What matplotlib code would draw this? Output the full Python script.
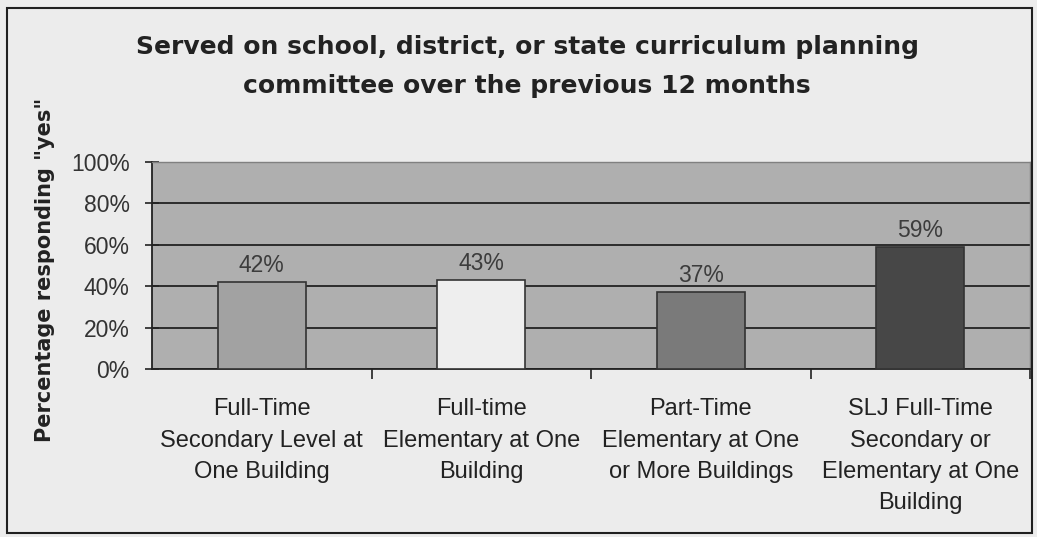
import matplotlib
matplotlib.use("Agg")
import matplotlib.pyplot as plt
from matplotlib.patches import Rectangle

categories = [
    "Full-Time\nSecondary Level at\nOne Building",
    "Full-time\nElementary at One\nBuilding",
    "Part-Time\nElementary at One\nor More Buildings",
    "SLJ Full-Time\nSecondary or\nElementary at One\nBuilding",
]
values = [42, 43, 37, 59]
labels = ["42%", "43%", "37%", "59%"]
yticks = [0, 20, 40, 60, 80, 100]
ytick_labels = ["0%", "20%", "40%", "60%", "80%", "100%"]
bar_colors = ["#a2a2a2", "#eeeeee", "#7a7a7a", "#474747"]

plt.rcParams['font.family'] = ['Liberation Sans', 'DejaVu Sans']

W, H = 1037, 537
fig = plt.figure(figsize=(W / 100, H / 100), dpi=100)
fig.patch.set_facecolor("#ececec")

# outer chart border
fig.patches.append(Rectangle((7 / W, 4 / H), (1032 - 7) / W, (529 - 4) / H,
                             transform=fig.transFigure, fill=False,
                             edgecolor="#202020", linewidth=1.5))

ax = fig.add_axes([152 / W, 1 - 369 / H, (1030 - 152) / W, (369 - 162) / H])
ax.set_facecolor("#afafaf")

x = list(range(len(values)))
ax.bar(x, values, width=0.4, color=bar_colors, edgecolor="#333333",
       linewidth=1.2, zorder=3)

for xi, v, lab in zip(x, values, labels):
    ax.text(xi, v + 2.5, lab, ha="center", va="bottom", fontsize=16.5,
            color="#3c3c3c", zorder=4)

ax.set_xlim(-0.5, len(values) - 0.5)
ax.set_ylim(0, 100)
ax.set_yticks(yticks)
ax.set_yticklabels(ytick_labels, fontsize=16.5, color="#333333")
ax.yaxis.grid(True, color="#222222", linewidth=1.3, zorder=1)
ax.set_axisbelow(True)

ax.set_xticks([i + 0.5 for i in range(len(values) - 1)] + [len(values) - 0.5], minor=False)
ax.set_xticklabels([])
ax.set_xticks(x, minor=True)
ax.set_xticklabels(categories, minor=True, fontsize=17, color="#222222",
                   linespacing=1.55, va="top")
ax.tick_params(axis="x", which="minor", length=0, pad=21)
ax.tick_params(axis="x", which="major", direction="out", length=7,
               width=1.2, color="#222222")
ax.tick_params(axis="y", direction="inout", length=10, width=1.2,
               color="#222222", pad=11)

for s in ["left", "bottom"]:
    ax.spines[s].set_color("#222222")
    ax.spines[s].set_linewidth(1.3)
for s in ["top", "right"]:
    ax.spines[s].set_color("#808080")
    ax.spines[s].set_linewidth(1.0)

title_font = dict(ha="center", va="center", fontsize=18, fontweight="bold",
                  color="#222222", family=["DejaVu Sans"])
fig.text(528 / W, 1 - 47 / H, "Served on school, district, or state curriculum planning",
         **title_font)
fig.text(527 / W, 1 - 86 / H, "committee over the previous 12 months", **title_font)

fig.text(45 / W, 1 - 270 / H, "Percentage responding \"yes\"", rotation=90,
         ha="center", va="center", fontsize=15, fontweight="bold",
         color="#222222", family=["DejaVu Sans"])

fig.savefig("out.png", dpi=100, facecolor=fig.get_facecolor())
